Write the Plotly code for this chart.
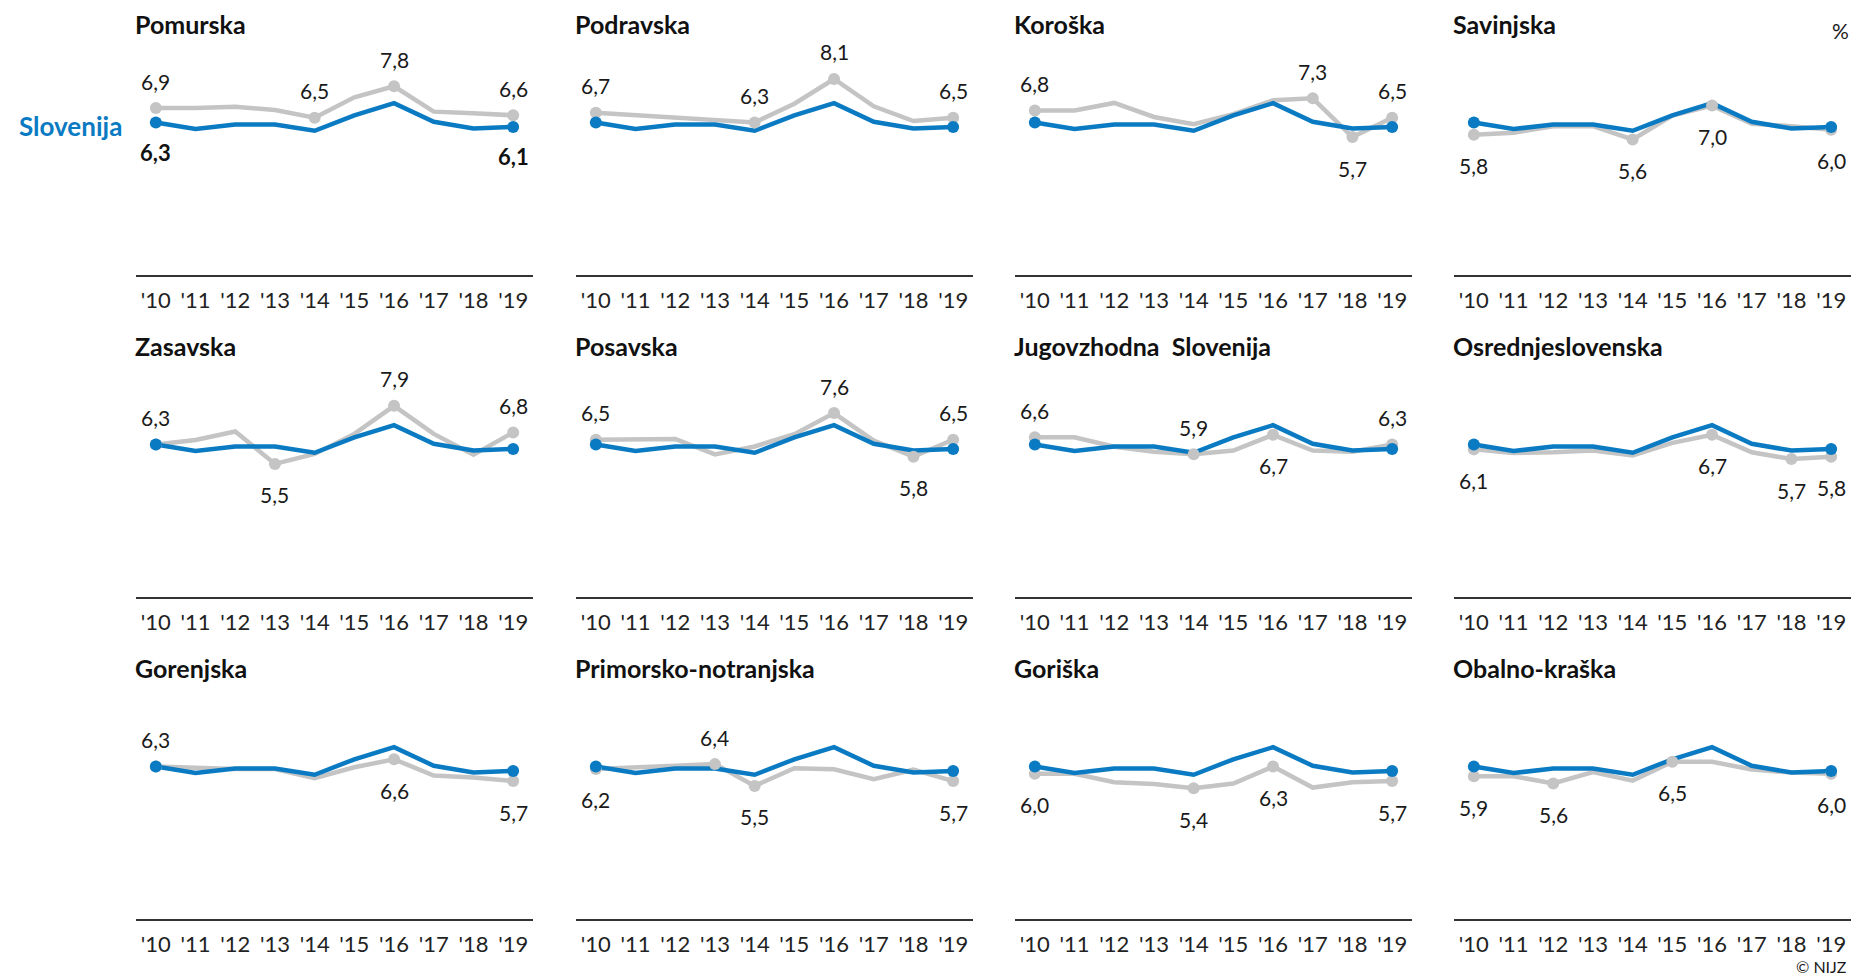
import plotly.graph_objects as go

# ---------------- data ----------------
years = list(range(2010, 2020))
year_labels = ["'10", "'11", "'12", "'13", "'14", "'15", "'16", "'17", "'18", "'19"]

slovenija = [6.3, 6.03, 6.22, 6.22, 5.96, 6.6, 7.1, 6.33, 6.05, 6.12]

regions = ["Pomurska", "Podravska", "Koroška", "Savinjska",
           "Zasavska", "Posavska", "Jugovzhodna\u00a0 Slovenija", "Osrednjeslovenska",
           "Gorenjska", "Primorsko-notranjska", "Goriška", "Obalno-kraška"]

pomurska = [6.9, 6.9, 6.95, 6.82, 6.5, 7.34, 7.8, 6.75, 6.68, 6.6]
podravska = [6.7, 6.6, 6.5, 6.44, 6.3, 7.08, 8.1, 6.97, 6.36, 6.5]
koroska = [6.8, 6.8, 7.11, 6.53, 6.23, 6.65, 7.22, 7.3, 5.7, 6.5]
savinjska = [5.8, 5.88, 6.15, 6.15, 5.6, 6.59, 7.0, 6.25, 6.15, 6.0]
zasavska = [6.3, 6.49, 6.84, 5.5, 5.91, 6.74, 7.9, 6.74, 5.88, 6.8]
posavska = [6.5, 6.53, 6.53, 5.89, 6.22, 6.73, 7.6, 6.46, 5.8, 6.5]
jugovzhodna = [6.6, 6.6, 6.21, 6.0, 5.9, 6.05, 6.7, 6.05, 6.0, 6.3]
osrednjeslovenska = [6.1, 5.95, 5.98, 6.05, 5.85, 6.37, 6.7, 5.98, 5.7, 5.8]
gorenjska = [6.3, 6.25, 6.2, 6.2, 5.82, 6.27, 6.6, 5.93, 5.85, 5.7]
primorsko_notranjska = [6.2, 6.27, 6.33, 6.4, 5.5, 6.23, 6.19, 5.78, 6.17, 5.7]
goriska = [6.0, 6.0, 5.65, 5.58, 5.4, 5.6, 6.3, 5.43, 5.65, 5.7]
obalno_kraska = [5.9, 5.9, 5.6, 6.07, 5.72, 6.5, 6.5, 6.18, 6.05, 6.0]

region_values = [pomurska, podravska, koroska, savinjska,
                 zasavska, posavska, jugovzhodna, osrednjeslovenska,
                 gorenjska, primorsko_notranjska, goriska, obalno_kraska]

# labelled points (year index -> label above 'a' / below 'b')
labelled = [
    {0: "a", 4: "a", 6: "a", 9: "a"},
    {0: "a", 4: "a", 6: "a", 9: "a"},
    {0: "a", 7: "a", 8: "b", 9: "a"},
    {0: "b", 4: "b", 6: "b", 9: "b"},
    {0: "a", 3: "b", 6: "a", 9: "a"},
    {0: "a", 6: "a", 8: "b", 9: "a"},
    {0: "a", 4: "a", 6: "b", 9: "a"},
    {0: "b", 6: "b", 8: "b", 9: "b"},
    {0: "a", 6: "b", 9: "b"},
    {0: "b", 3: "a", 4: "b", 9: "b"},
    {0: "b", 4: "b", 6: "b", 9: "b"},
    {0: "b", 2: "b", 5: "b", 9: "b"},
]

# ---------------- style ----------------
W, H = 1854, 975
BLUE = "#0A7BC2"
GRAY = "#C4C4C4"
FONT = "Lato"
col_left = [136, 576, 1015, 1454]
panel_w = 397
row_bottom = [275, 597, 919]
plot_h = 242
title_y = [24, 346, 668]

fig = go.Figure()
annotations = []
layout = {}


def fmt(v):
    return f"{v:.1f}".replace(".", ",")


for i, (name, vals) in enumerate(zip(regions, region_values)):
    r, c = divmod(i, 4)
    n = i + 1
    xa = "x" if n == 1 else f"x{n}"
    ya = "y" if n == 1 else f"y{n}"
    xkey = "xaxis" if n == 1 else f"xaxis{n}"
    ykey = "yaxis" if n == 1 else f"yaxis{n}"

    x0 = col_left[c]
    layout[xkey] = dict(
        domain=[x0 / W, (x0 + panel_w) / W], range=[2009.5, 2019.5], anchor=ya,
        showline=True, linecolor="#333333", linewidth=2, showgrid=False, zeroline=False,
        tickmode="array", tickvals=years, ticktext=year_labels,
        ticks="outside", ticklen=5, tickcolor="rgba(0,0,0,0)",
        tickfont=dict(family=FONT, size=22, color="#222222"), fixedrange=True,
    )
    yb = row_bottom[r]
    layout[ykey] = dict(
        domain=[1 - yb / H, 1 - (yb - plot_h) / H], range=[0, 10], anchor=xa,
        visible=False, fixedrange=True,
    )

    lab = labelled[i]
    idx = sorted(lab)
    # gray region line
    fig.add_trace(go.Scatter(x=years, y=vals, mode="lines", xaxis=xa, yaxis=ya,
                             line=dict(color=GRAY, width=4.5), hoverinfo="skip",
                             showlegend=False))
    # blue national line
    fig.add_trace(go.Scatter(x=years, y=slovenija, mode="lines", xaxis=xa, yaxis=ya,
                             line=dict(color=BLUE, width=4.5), hoverinfo="skip",
                             showlegend=False))
    # gray markers
    fig.add_trace(go.Scatter(x=[years[k] for k in idx], y=[vals[k] for k in idx],
                             mode="markers", xaxis=xa, yaxis=ya,
                             marker=dict(color=GRAY, size=12), hoverinfo="skip",
                             showlegend=False))
    # blue markers
    fig.add_trace(go.Scatter(x=[years[0], years[-1]], y=[slovenija[0], slovenija[-1]],
                             mode="markers", xaxis=xa, yaxis=ya,
                             marker=dict(color=BLUE, size=12), hoverinfo="skip",
                             showlegend=False))

    for k in idx:
        annotations.append(dict(
            x=years[k], y=vals[k], xref=xa, yref=ya, text=fmt(vals[k]),
            showarrow=False, xanchor="center", yanchor="middle",
            yshift=27 if lab[k] == "a" else -31,
            font=dict(family=FONT, size=21, color="#1a1a1a")))

    annotations.append(dict(
        x=(x0 - 3) / W, y=1 - title_y[r] / H, xref="paper", yref="paper",
        text=name, showarrow=False, xanchor="left", yanchor="middle",
        font=dict(family=FONT, size=25, color="#111111", weight="bold")))

    if i == 0:
        for k in (0, len(years) - 1):
            annotations.append(dict(
                x=years[k], y=slovenija[k], xref=xa, yref=ya, text=fmt(slovenija[k]),
                showarrow=False, xanchor="center", yanchor="middle", yshift=-30,
                font=dict(family=FONT, size=22, color="#111111", weight="bold")))

annotations.append(dict(x=124 / W, y=1 - 126 / H, xref="paper", yref="paper",
                        text="Slovenija", showarrow=False, xanchor="right", yanchor="middle",
                        font=dict(family=FONT, size=26, color=BLUE, weight="bold")))
annotations.append(dict(x=1851 / W, y=1 - 30 / H, xref="paper", yref="paper",
                        text="%", showarrow=False, xanchor="right", yanchor="middle",
                        font=dict(family=FONT, size=21, color="#1a1a1a")))
annotations.append(dict(x=1849 / W, y=1 - 966 / H, xref="paper", yref="paper",
                        text="© NIJZ", showarrow=False, xanchor="right", yanchor="middle",
                        font=dict(family=FONT, size=16, color="#1a1a1a")))

fig.update_layout(
    width=W, height=H, margin=dict(l=0, r=0, t=0, b=0),
    paper_bgcolor="white", plot_bgcolor="white",
    annotations=annotations, **layout,
)

fig.write_html("out.html", config={"displayModeBar": False},
               post_script="document.body.style.margin='0';document.body.style.overflow='hidden';")
